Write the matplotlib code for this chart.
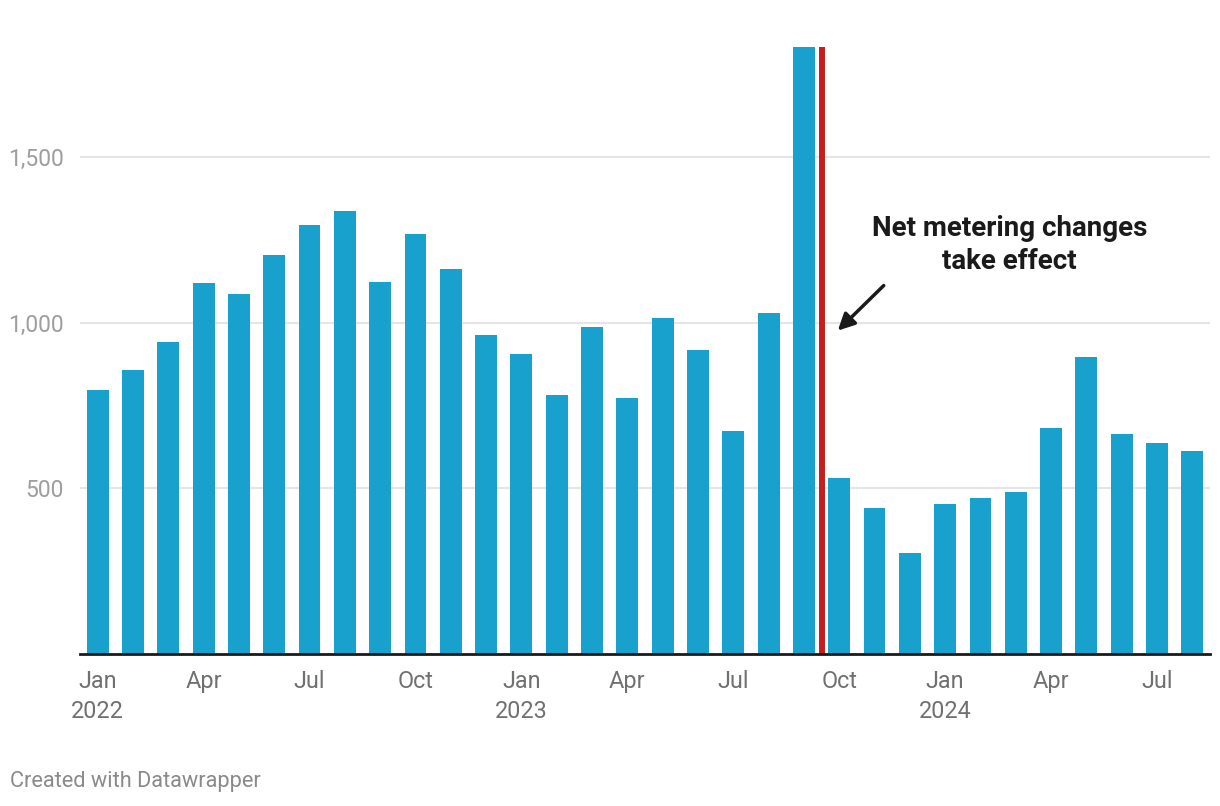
"""Monthly bar chart with net metering annotation."""

import matplotlib.pyplot as plt

plt.rcParams["font.family"] = ["Roboto", "DejaVu Sans"]

MONTHS = [
    "Jan", "Feb", "Mar", "Apr", "May", "Jun",
    "Jul", "Aug", "Sep", "Oct", "Nov", "Dec",
]
YEARS = [2022, 2023, 2024]

VALUES = [
    797, 857, 942, 1120, 1087, 1204, 1295, 1337, 1123, 1268, 1162, 963,
    906, 782, 987, 773, 1015, 918, 673, 1030, 1832, 532, 441, 305,
    453, 471, 489, 683, 897, 665, 637, 613,
]
Y_TICKS = [500, 1000, 1500]
EVENT_INDEX = 20.5  # between Sep and Oct 2023
ANNOTATION = "Net metering changes\ntake effect"

BAR_COLOR = "#18a1cd"
EVENT_COLOR = "#c71e1d"

labels = []
for i in range(len(VALUES)):
    year = YEARS[i // 12]
    month = MONTHS[i % 12]
    labels.append(f"{month}\n{year}" if month == "Jan" else month)

fig = plt.figure(figsize=(12.2, 8.06), dpi=100)
ax = fig.add_axes([80 / 1220, 1 - 654 / 806, 1130 / 1220, 607 / 806])

x = list(range(len(VALUES)))
ax.bar(x, VALUES, width=0.62, color=BAR_COLOR, zorder=2)
ax.vlines(EVENT_INDEX, 0, max(VALUES), color=EVENT_COLOR, linewidth=4.3, zorder=3)

ax.set_xlim(-0.5, len(VALUES) - 0.5)
ax.set_ylim(0, max(VALUES))

tick_pos = [i for i in x if i % 3 == 0]
ax.set_xticks(tick_pos)
ax.set_xticklabels([labels[i] for i in tick_pos], fontsize=16.8, color="#707070",
                   linespacing=1.38)
ax.tick_params(axis="x", length=0, pad=11.5)

ax.set_yticks(Y_TICKS)
ax.set_yticklabels([f"{v:,}" for v in Y_TICKS], fontsize=16.5, color="#9e9e9e")
ax.tick_params(axis="y", length=0, pad=12)
ax.grid(axis="y", color="#e5e5e5", linewidth=1.5, zorder=0)

for side in ("top", "right", "left"):
    ax.spines[side].set_visible(False)
ax.spines["bottom"].set_color("#1a1a1a")
ax.spines["bottom"].set_linewidth(2)
ax.spines["bottom"].set_zorder(4)

ax.text(25.83, 1234, ANNOTATION, ha="center", va="center", fontsize=20,
        fontweight="bold", color="#1a1a1a", linespacing=1.3)
ax.annotate("", xy=(20.96, 976), xytext=(22.26, 1112),
            arrowprops=dict(arrowstyle="-|>,head_length=1.0,head_width=0.5",
                            color="#1a1a1a", lw=2.5, shrinkA=0, shrinkB=0))

fig.text(10 / 1220, 1 - 782 / 806, "Created with Datawrapper", fontsize=15.7,
         color="#8a8a8a", ha="left", va="center")

fig.savefig("out.png", dpi=100)
